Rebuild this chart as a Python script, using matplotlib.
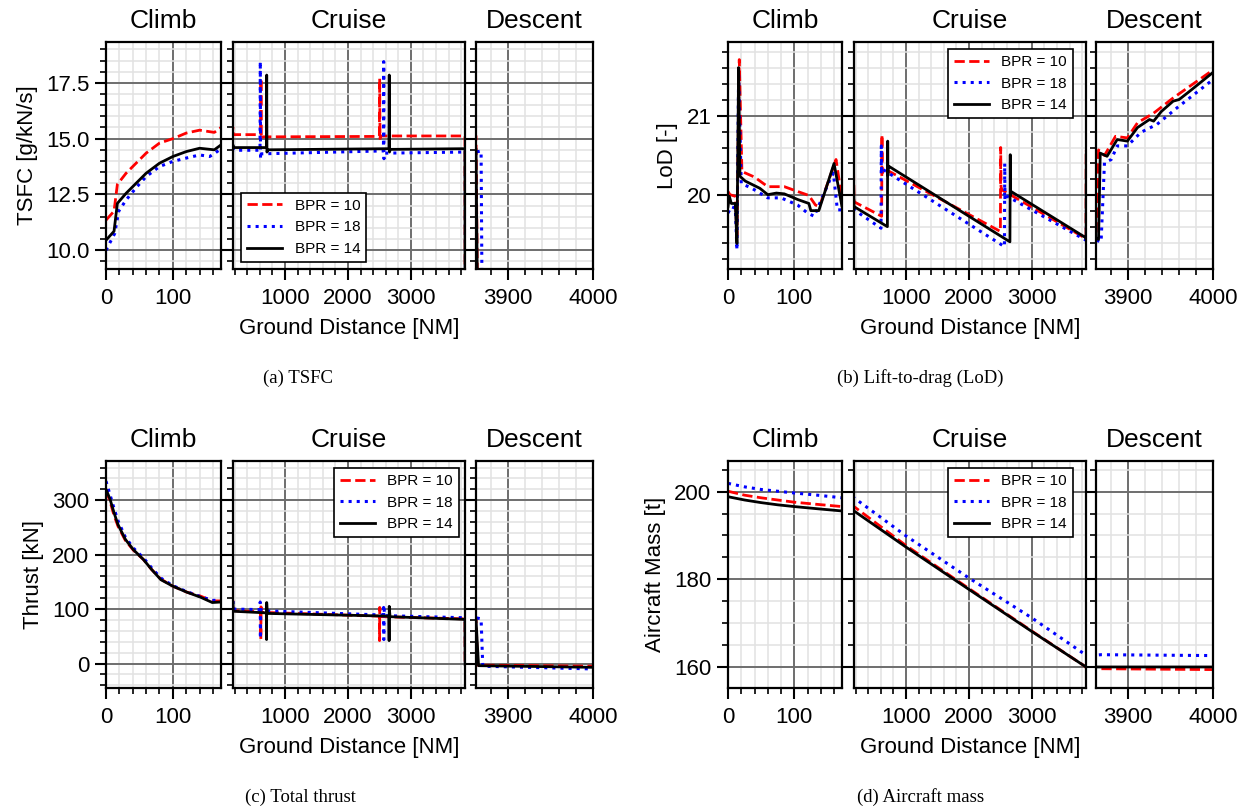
import matplotlib
matplotlib.use("Agg")
import matplotlib.pyplot as plt
from matplotlib.ticker import MultipleLocator, FormatStrFormatter

plt.rcParams['font.family'] = ['Liberation Sans', 'DejaVu Sans']

# ---------------- data ----------------
PHASES = ['Climb', 'Cruise', 'Descent']
PHASE_XLIM = [(0, 172), (172, 3862), (3862, 4000)]
SERIES_LABELS = ['BPR = 10', 'BPR = 18', 'BPR = 14']

# TSFC [g/kN/s]
TSFC_X_10 = [0, 12, 17, 30, 40, 60, 80, 100, 120, 140, 162, 172, 175, 612, 617, 622, 640,
             2500, 2505, 2510, 2525, 3862, 3865, 4000]
TSFC_Y_10 = [11.35, 11.75, 12.95, 13.45, 13.75, 14.35, 14.8, 15.0, 15.25, 15.38, 15.28, 15.5, 15.18,
             15.18, 17.7, 15.0, 15.08, 15.1, 17.7, 15.0, 15.12, 15.12, 3.0, 3.0]
TSFC_X_18 = [0, 13, 19, 30, 45, 60, 80, 100, 120, 140, 155, 163, 172, 175, 602, 606, 610, 622,
             2565, 2569, 2573, 2585, 3862, 3868, 3870, 4000]
TSFC_Y_18 = [10.0, 10.75, 11.75, 12.25, 12.8, 13.3, 13.75, 13.98, 14.13, 14.27, 14.2, 14.35, 14.55, 14.48,
             14.48, 18.45, 14.1, 14.32, 14.45, 18.45, 14.1, 14.35, 14.4, 14.45, 3.0, 3.0]
TSFC_X_14 = [0, 12, 17, 30, 45, 60, 80, 100, 120, 140, 162, 172, 175, 703, 708, 712, 725,
             2652, 2657, 2661, 2675, 3862, 3865, 4000]
TSFC_Y_14 = [10.45, 10.85, 12.1, 12.55, 13.0, 13.45, 13.9, 14.2, 14.42, 14.57, 14.5, 14.72, 14.6,
             14.6, 17.85, 14.4, 14.5, 14.55, 17.85, 14.4, 14.52, 14.55, 3.0, 3.0]

# Lift-to-drag [-]
LOD_X_10 = [0, 3, 11, 13.5, 17, 21, 40, 60, 85, 105, 122, 132, 138, 163, 172, 175, 612, 617, 621, 640,
            2500, 2505, 2510, 2525, 3862, 3865, 3872, 3885, 3899, 3911, 3930, 3953, 4000]
LOD_Y_10 = [20.05, 20.01, 19.99, 19.5, 21.7, 20.3, 20.23, 20.11, 20.11, 20.05, 20.0, 19.88, 19.86, 20.45, 19.95,
            19.92, 19.74, 20.76, 20.28, 20.34, 19.55, 20.6, 20.11, 20.07, 19.46, 20.57, 20.5, 20.74, 20.72,
            20.91, 21.03, 21.22, 21.57]
LOD_X_18 = [0, 5, 11, 13.5, 16, 20, 36, 60, 80, 105, 120, 130, 154, 159, 165, 172, 175, 602, 606, 610, 622,
            2565, 2569, 2573, 2585, 3862, 3868, 3872, 3880, 3887, 3899, 3915, 3934, 3958, 4000]
LOD_Y_18 = [19.78, 19.86, 19.84, 19.32, 21.5, 20.15, 20.09, 19.97, 19.97, 19.88, 19.78, 19.74, 20.2, 20.28, 19.82,
            19.82, 19.82, 19.59, 20.62, 20.3, 20.33, 19.36, 20.4, 19.95, 20.0, 19.44, 19.42, 20.41, 20.45,
            20.62, 20.62, 20.79, 20.89, 21.1, 21.45]
LOD_X_14 = [0, 2, 5, 11, 13.5, 16, 18, 26, 48, 60, 73, 85, 105, 122, 125, 137, 160, 172, 175, 703, 708, 711,
            716, 2652, 2657, 2661, 2670, 3862, 3865, 3867, 3875, 3887, 3899, 3911, 3925, 3930, 3939, 3953,
            3960, 3972, 4000]
LOD_Y_14 = [19.86, 19.99, 19.9, 19.9, 19.4, 21.6, 20.24, 20.18, 20.09, 20.01, 20.03, 20.02, 19.95, 19.9, 19.81,
            19.81, 20.4, 19.86, 19.86, 19.61, 20.68, 20.25, 20.37, 19.42, 20.51, 20.0, 20.05, 19.47, 19.45,
            20.53, 20.49, 20.7, 20.68, 20.85, 20.95, 20.93, 21.05, 21.18, 21.2, 21.3, 21.54]

# Total thrust [kN]
THR_X_10 = [0, 6, 12, 18, 29, 41, 56, 68, 82, 100, 121, 141, 159, 172, 175, 612, 615, 618, 622, 635,
            2500, 2503, 2506, 2512, 2525, 3862, 3864, 4000]
THR_Y_10 = [318, 298, 272, 252, 226, 208, 191, 173, 155, 142, 131, 124, 115, 115, 97, 95, 45, 104, 97, 94,
            87, 42, 103, 94, 86, 82, -3, -5]
THR_X_18 = [0, 6, 12, 18, 29, 41, 56, 68, 82, 100, 121, 141, 159, 172, 175, 602, 605, 608, 612, 620,
            2565, 2568, 2571, 2575, 2585, 3862, 3868, 3870, 4000]
THR_Y_18 = [335, 310, 285, 262, 232, 212, 194, 176, 157, 143, 132, 123, 116, 116, 100, 99, 113, 46, 105, 97,
            89, 103, 44, 100, 88, 84, 82, -5, -10]
THR_X_14 = [0, 6, 12, 18, 29, 41, 56, 68, 82, 100, 121, 141, 159, 172, 175, 703, 706, 708, 714, 720,
            2652, 2655, 2657, 2663, 2670, 3862, 3865, 4000]
THR_Y_14 = [320, 302, 277, 255, 228, 209, 191, 173, 154, 142, 131, 122, 112, 113, 96, 93, 44, 112, 99, 92,
            87, 42, 105, 95, 86, 81, -4, -7]

# Aircraft mass [t]
MASS_X_10 = [0, 25, 50, 75, 100, 135, 172, 1000, 2000, 3000, 3862, 3866, 4000]
MASS_Y_10 = [200.1, 199.2, 198.6, 198.1, 197.6, 197.1, 196.6, 187.7, 177.9, 168.2, 160.0, 159.6, 159.4]
MASS_X_18 = [0, 25, 50, 75, 100, 135, 172, 1000, 2000, 3000, 3862, 3868, 4000]
MASS_Y_18 = [201.9, 201.1, 200.5, 200.1, 199.7, 199.2, 198.6, 189.9, 180.3, 171.2, 162.7, 162.8, 162.6]
MASS_X_14 = [0, 25, 50, 75, 100, 135, 172, 1000, 2000, 3000, 3862, 4000]
MASS_Y_14 = [198.85, 198.1, 197.5, 197.0, 196.6, 196.1, 195.6, 187.35, 177.7, 168.1, 160.0, 160.0]

# ---------------- layout ----------------
W, H = 1250, 811
fig = plt.figure(figsize=(W / 100, H / 100), dpi=100)

LEFT_X = [(106, 221), (233, 465), (476, 593)]
RIGHT_X = [(728, 842), (854, 1086), (1096, 1213)]
TOP_Y = (42, 269)
BOT_Y = (461, 688)

X_MAJOR = [100, 1000, 100]
X_MINOR = [20, 200, 20]

STYLES = [dict(color='#ff0000', ls='--', lw=2.0),
          dict(color='#0000ff', ls=':', lw=2.2),
          dict(color='black', ls='-', lw=2.0)]


def px_axes(xr, yr):
    return fig.add_axes([xr[0] / W, 1 - yr[1] / H, (xr[1] - xr[0]) / W, (yr[1] - yr[0]) / H])


def make_chart(xranges, yrange, series, ylim, ymaj, ymin, ylabel, legend_kw, caption, cap_xy, yfmt):
    axes = []
    for i, (xr, phase) in enumerate(zip(xranges, PHASES)):
        ax = px_axes(xr, yrange)
        for (xs, ys), st, lab in zip(series, STYLES, SERIES_LABELS):
            ax.plot(xs, ys, label=lab, **st)
        ax.set_xlim(*PHASE_XLIM[i])
        ax.set_ylim(*ylim)
        ax.xaxis.set_major_locator(MultipleLocator(X_MAJOR[i]))
        ax.xaxis.set_minor_locator(MultipleLocator(X_MINOR[i]))
        ax.yaxis.set_major_locator(MultipleLocator(ymaj))
        ax.yaxis.set_minor_locator(MultipleLocator(ymin))
        ax.grid(which='major', color='#6e6e6e', lw=1.4)
        ax.grid(which='minor', color='#e2e2e2', lw=1.1)
        ax.set_axisbelow(True)
        for sp in ax.spines.values():
            sp.set_linewidth(1.6)
            sp.set_color('black')
        ax.tick_params(which='major', direction='out', length=8, width=1.5, labelsize=16, pad=4)
        ax.tick_params(axis='x', which='major', pad=6)
        ax.tick_params(which='minor', direction='out', length=4.5, width=1.2)
        ax.tick_params(which='both', top=False, right=False)
        if i > 0:
            ax.tick_params(axis='y', labelleft=False)
        else:
            ax.yaxis.set_major_formatter(yfmt)
            ax.set_ylabel(ylabel, fontsize=16, labelpad=6)
        ax.set_title(phase, fontsize=19, pad=10)
        if i == 1:
            ax.set_xlabel('Ground Distance [NM]', fontsize=16, labelpad=6)
            leg = ax.legend(fontsize=11, frameon=True, fancybox=False, edgecolor='black',
                            framealpha=1, handlelength=2.3, handletextpad=0.8, borderpad=0.4,
                            labelspacing=0.5, **legend_kw)
            leg.get_frame().set_linewidth(1.2)
        axes.append(ax)
    fig.text(cap_xy[0] / W, 1 - cap_xy[1] / H, caption, ha='center', va='center',
             fontsize=13.5, family=['Liberation Serif', 'DejaVu Serif'])
    return axes


make_chart(LEFT_X, TOP_Y,
           [(TSFC_X_10, TSFC_Y_10), (TSFC_X_18, TSFC_Y_18), (TSFC_X_14, TSFC_Y_14)],
           (9.16, 19.33), 2.5, 0.5, 'TSFC [g/kN/s]',
           dict(loc='lower left', bbox_to_anchor=(0.035, 0.03), borderaxespad=0),
           '(a) TSFC', (298, 378), FormatStrFormatter('%.1f'))

make_chart(RIGHT_X, TOP_Y,
           [(LOD_X_10, LOD_Y_10), (LOD_X_18, LOD_Y_18), (LOD_X_14, LOD_Y_14)],
           (19.08, 21.92), 1, 0.2, 'LoD [-]',
           dict(loc='upper right', bbox_to_anchor=(0.944, 0.97), borderaxespad=0),
           '(b) Lift-to-drag (LoD)', (920, 378), FormatStrFormatter('%d'))

make_chart(LEFT_X, BOT_Y,
           [(THR_X_10, THR_Y_10), (THR_X_18, THR_Y_18), (THR_X_14, THR_Y_14)],
           (-45, 372), 100, 20, 'Thrust [kN]',
           dict(loc='upper right', bbox_to_anchor=(0.974, 0.97), borderaxespad=0),
           '(c) Total thrust', (300, 797), FormatStrFormatter('%d'))

make_chart(RIGHT_X, BOT_Y,
           [(MASS_X_10, MASS_Y_10), (MASS_X_18, MASS_Y_18), (MASS_X_14, MASS_Y_14)],
           (155.2, 207), 20, 5, 'Aircraft Mass [t]',
           dict(loc='upper right', bbox_to_anchor=(0.944, 0.97), borderaxespad=0),
           '(d) Aircraft mass', (921, 797), FormatStrFormatter('%d'))

fig.savefig('out.png', dpi=100)
